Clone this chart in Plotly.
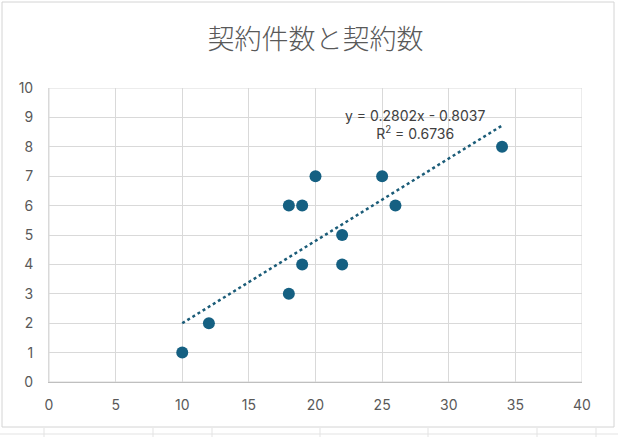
import numpy as np
import plotly.graph_objects as go

contracts = [10, 12, 18, 18, 19, 19, 20, 22, 22, 25, 26, 34]
deals = [1, 2, 3, 6, 6, 4, 7, 5, 4, 7, 6, 8]
x_ticks = [0, 5, 10, 15, 20, 25, 30, 35, 40]
y_ticks = [0, 1, 2, 3, 4, 5, 6, 7, 8, 9, 10]
title = "契約件数と契約数"

slope, intercept = np.polyfit(contracts, deals, 1)
pred = np.polyval([slope, intercept], contracts)
r2 = 1 - np.sum((np.array(deals) - pred) ** 2) / np.sum((np.array(deals) - np.mean(deals)) ** 2)
tx = [min(contracts), max(contracts)]
ty = [slope * v + intercept for v in tx]

fig = go.Figure()
fig.add_trace(go.Scatter(x=tx, y=ty, mode="lines",
                         line=dict(color="#1B5C78", width=2.5, dash="dot"),
                         hoverinfo="skip", showlegend=False))
fig.add_trace(go.Scatter(x=contracts, y=deals, mode="markers",
                         marker=dict(color="#156082", size=12),
                         showlegend=False))

L, R, T, B = 49, 36, 88, 55
W, H = 618, 437
pw, ph = W - L - R, H - T - B

def px_x(p):
    return (p - L) / pw

def px_y(p):
    return (H - B - p) / ph

shapes = []
# spreadsheet cell lines outside the chart
for xv in [44, 153, 212, 320, 428, 537, 596]:
    shapes.append(dict(type="line", xref="paper", yref="paper",
                       x0=px_x(xv), x1=px_x(xv), y0=px_y(428), y1=px_y(437),
                       line=dict(color="#E3E3E3", width=1), layer="below"))
shapes.append(dict(type="line", xref="paper", yref="paper",
                   x0=px_x(0), x1=px_x(618), y0=px_y(434), y1=px_y(434),
                   line=dict(color="#E3E3E3", width=1), layer="below"))
# chart frame
shapes.append(dict(type="rect", xref="paper", yref="paper",
                   x0=px_x(2), x1=px_x(614), y0=px_y(427), y1=px_y(2),
                   line=dict(color="#D4D4D4", width=1), fillcolor="rgba(0,0,0,0)",
                   layer="below"))

fig.update_layout(
    width=W, height=H,
    margin=dict(l=L, r=R, t=T, b=B),
    paper_bgcolor="white", plot_bgcolor="white",
    font=dict(family="Inter, Noto Sans CJK JP, sans-serif", color="#595959", size=14),
    title=dict(text=title, x=0.5, xref="paper", xanchor="center",
               y=1 - 40 / H, yanchor="middle",
               font=dict(family="Noto Sans CJK JP", size=27, color="#595959", weight=300)),
    shapes=shapes,
    annotations=[dict(
        text=f"y = {slope:.4f}x - {abs(intercept):.4f}<br>R<sup>2</sup> = {r2:.4f}",
        xref="paper", yref="paper", x=px_x(415), y=px_y(124),
        xanchor="center", yanchor="middle", showarrow=False, align="center",
        font=dict(size=14, color="#404040"))],
)
fig.update_xaxes(range=[0, 40], tickvals=x_ticks, showgrid=True, gridcolor="#D9D9D9",
                 zeroline=False, showline=True, linecolor="#BFBFBF", mirror=False,
                 ticks="", ticklabelstandoff=10, fixedrange=True)
fig.update_yaxes(range=[0, 10], tickvals=y_ticks, showgrid=True, gridcolor="#D9D9D9",
                 zeroline=False, showline=True, linecolor="#D9D9D9",
                 ticks="", ticklabelstandoff=12, fixedrange=True)
fig.add_shape(type="rect", xref="x", yref="y", x0=0, x1=40, y0=0, y1=10,
              line=dict(color="#D9D9D9", width=1), layer="below")

fig.write_html("out.html")
